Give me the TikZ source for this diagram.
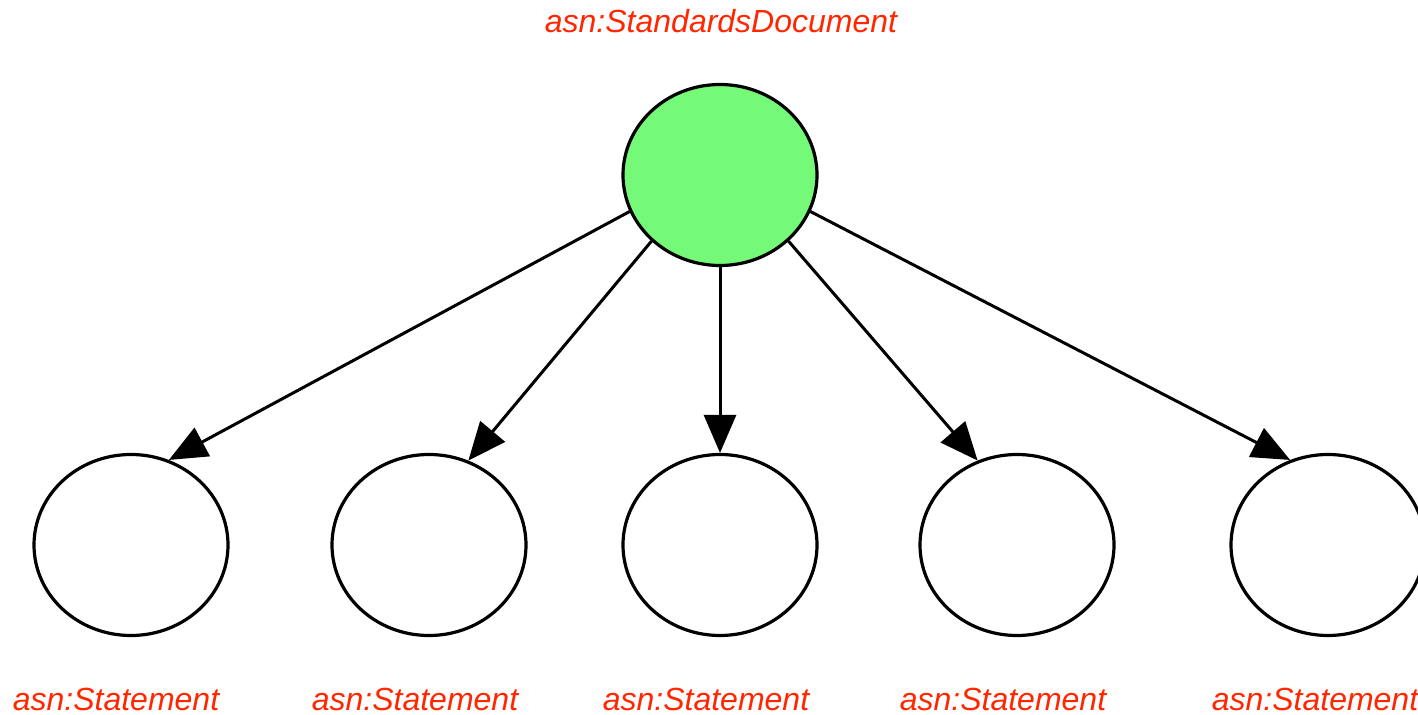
\documentclass[tikz,border=0pt]{standalone}
\usepackage{fontspec}
\setmainfont{Liberation Sans}
\usetikzlibrary{shapes.geometric,arrows.meta}
\definecolor{lblred}{RGB}{255,38,0}
\definecolor{docgreen}{RGB}{116,250,120}
\tikzset{
  px/.style={x=0.5pt,y=-0.5pt},
  elnode/.style={ellipse,draw=black,line width=1.6pt,minimum width=97pt,minimum height=90.5pt,inner sep=0pt},
  lbl/.style={text=lblred,font=\fontsize{16pt}{19pt}\selectfont\itshape,anchor=base,inner sep=0pt},
  edgearrow/.style={line width=1.5pt,-{Triangle[length=19pt,width=16pt]}}
}
\begin{document}
\begin{tikzpicture}[px]
\clip (0,0) rectangle (1418,715);
\fill[white] (0,0) rectangle (1418,715);
\node[elnode,fill=docgreen] (doc) at (720,175) {};
\node[elnode] (s1) at (131,545) {};
\node[elnode] (s2) at (429,545) {};
\node[elnode] (s3) at (720,545) {};
\node[elnode] (s4) at (1017,545) {};
\node[elnode] (s5) at (1328,545) {};
\node[lbl] (ldoc) at (721,33) {asn:StandardsDocument};
\node[lbl] (l1) at (116,710) {asn:Statement};
\node[lbl] (l2) at (415,710) {asn:Statement};
\node[lbl] (l3) at (706,710) {asn:Statement};
\node[lbl] (l4) at (1003,710) {asn:Statement};
\node[lbl] (l5) at (1315,710) {asn:Statement};
\draw[edgearrow] (doc.202) -- (s1.66);
\draw[edgearrow] (doc.224) -- (s2.65);
\draw[edgearrow] (doc.270) -- (s3.90);
\draw[edgearrow] (doc.316) -- (s4.115);
\draw[edgearrow] (doc.338) -- (s5.114);
\end{tikzpicture}
\end{document}
